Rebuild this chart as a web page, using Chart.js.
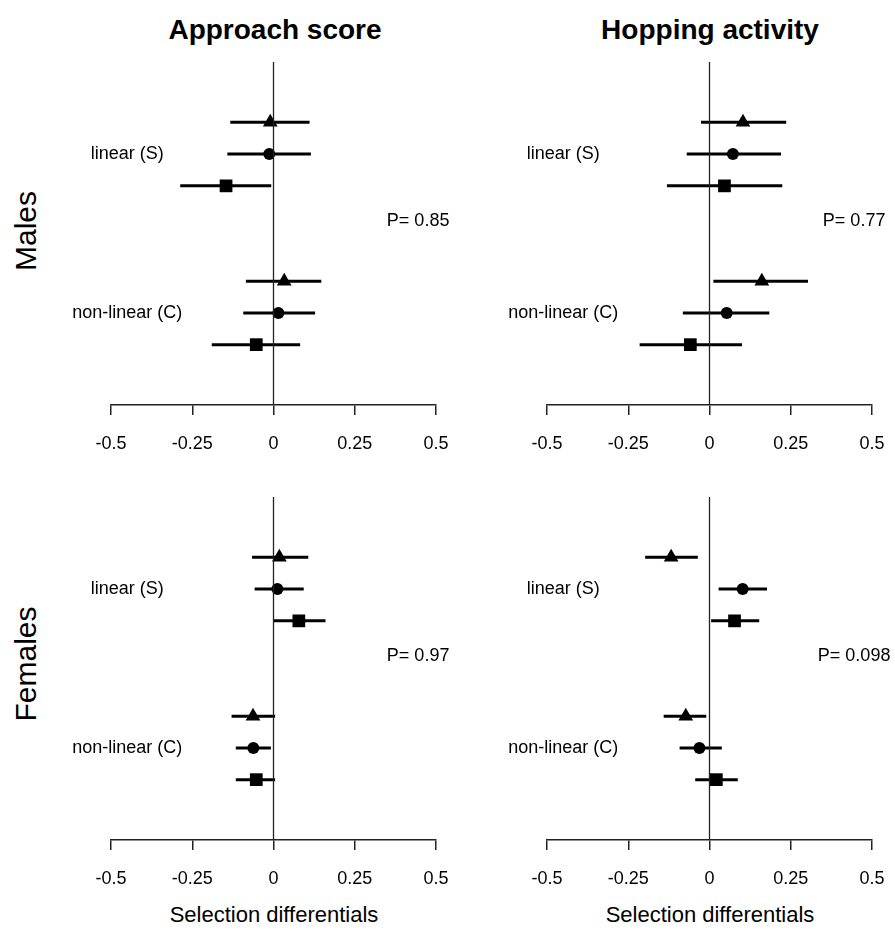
<!DOCTYPE html>
<html lang="en">

<head>
    <meta charset="UTF-8">
    <title>Selection differentials</title>
    <script src="https://cdn.jsdelivr.net/npm/chart.js"></script>
    <style>
        body { margin: 0; background: #fff; font-family: "Liberation Sans", Arial, sans-serif; }
        #page { position: relative; width: 895px; height: 932px; overflow: hidden; }
        canvas { position: absolute; }
        .label { position: absolute; transform: translate(-50%, -50%); white-space: nowrap; color: #000; }
        .title { font-weight: bold; font-size: 28px; }
        .sex { font-size: 30px; transform: translate(-50%, -50%) rotate(-90deg); }
        .xtitle { font-size: 22px; }
    </style>
</head>

<body>
    <div id="page">
        <div class="label title" style="left:275px; top:30px">Approach score</div>
        <div class="label title" style="left:710px; top:30px">Hopping activity</div>
        <div class="label sex" style="left:26px; top:231px">Males</div>
        <div class="label sex" style="left:26px; top:664px">Females</div>
        <div class="label xtitle" style="left:274px; top:915px">Selection differentials</div>
        <div class="label xtitle" style="left:710px; top:915px">Selection differentials</div>

        <canvas id="maleApproach" width="420" height="420" style="left:50px; top:40px"></canvas>
        <canvas id="maleHopping" width="418" height="420" style="left:487px; top:40px"></canvas>
        <canvas id="femaleApproach" width="420" height="420" style="left:50px; top:475px"></canvas>
        <canvas id="femaleHopping" width="418" height="420" style="left:487px; top:475px"></canvas>
    </div>

    <script>
        // rows: linear (S) triangle, circle, square, then non-linear (C) triangle, circle, square
        const rowLabels = ['linear (S)', 'non-linear (C)'];
        const xTicks = [-0.5, -0.25, 0, 0.25, 0.5];
        const xTickLabels = ['-0.5', '-0.25', '0', '0.25', '0.5'];
        const pLabels = ['P= 0.85', 'P= 0.77', 'P= 0.97', 'P= 0.098'];

        const maleApproachEst = [-0.010, -0.013, -0.146, 0.033, 0.015, -0.053];
        const maleApproachLo = [-0.133, -0.142, -0.287, -0.085, -0.093, -0.190];
        const maleApproachHi = [0.111, 0.115, -0.007, 0.147, 0.128, 0.082];

        const maleHoppingEst = [0.103, 0.072, 0.046, 0.161, 0.053, -0.059];
        const maleHoppingLo = [-0.026, -0.070, -0.131, 0.012, -0.082, -0.215];
        const maleHoppingHi = [0.236, 0.220, 0.224, 0.303, 0.184, 0.100];

        const femaleApproachEst = [0.018, 0.012, 0.078, -0.063, -0.062, -0.053];
        const femaleApproachLo = [-0.066, -0.058, 0.000, -0.129, -0.116, -0.116];
        const femaleApproachHi = [0.107, 0.093, 0.160, 0.005, -0.008, 0.005];

        const femaleHoppingEst = [-0.118, 0.102, 0.077, -0.073, -0.031, 0.021];
        const femaleHoppingLo = [-0.198, 0.028, 0.005, -0.141, -0.092, -0.044];
        const femaleHoppingHi = [-0.036, 0.177, 0.153, -0.010, 0.038, 0.087];

        const FONT = '"Liberation Sans", Arial, sans-serif';
        const shapes = [
            { style: 'triangle', radius: 8.5 },
            { style: 'circle', radius: 6 },
            { style: 'rect', radius: 9 }
        ];

        // y slot for row i: groups of three with a gap between them
        const slotOf = i => Math.floor(i / 3) * 5 + (i % 3);

        const errorBars = {
            id: 'errorBars',
            beforeDatasetsDraw(chart, args, opts) {
                const { ctx, scales: { x, y } } = chart;
                ctx.save();
                ctx.strokeStyle = '#000';
                ctx.lineWidth = 3;
                opts.lo.forEach((lo, i) => {
                    const py = y.getPixelForValue(slotOf(i));
                    ctx.beginPath();
                    ctx.moveTo(x.getPixelForValue(lo), py);
                    ctx.lineTo(x.getPixelForValue(opts.hi[i]), py);
                    ctx.stroke();
                });
                ctx.restore();
            }
        };

        const panelText = {
            id: 'panelText',
            afterDraw(chart, args, opts) {
                const { ctx, scales: { x, y } } = chart;
                ctx.save();
                ctx.fillStyle = '#000';
                ctx.font = '18px ' + FONT;
                ctx.textAlign = 'center';
                ctx.textBaseline = 'middle';
                rowLabels.forEach((txt, g) => {
                    ctx.fillText(txt, x.getPixelForValue(-0.45), y.getPixelForValue(g * 5 + 1));
                });
                ctx.fillText(opts.p, x.getPixelForValue(0.445), y.getPixelForValue(3.1));
                ctx.restore();
            }
        };

        function makePanel(id, est, lo, hi, p, pad) {
            const datasets = [{
                type: 'line',
                data: [{ x: 0, y: -1.9 }, { x: 0, y: 8.9 }],
                borderColor: '#222',
                borderWidth: 1.3,
                pointRadius: 0
            }];
            shapes.forEach((s, k) => {
                datasets.push({
                    type: 'scatter',
                    data: [k, k + 3].map(i => ({ x: est[i], y: slotOf(i) })),
                    pointStyle: s.style,
                    pointRadius: s.radius,
                    backgroundColor: '#000',
                    borderColor: '#000',
                    borderWidth: 0,
                    clip: false
                });
            });

            new Chart(document.getElementById(id), {
                type: 'scatter',
                data: { datasets },
                options: {
                    responsive: false,
                    animation: false,
                    layout: { padding: pad },
                    plugins: {
                        legend: { display: false },
                        tooltip: { enabled: false },
                        errorBars: { lo, hi },
                        panelText: { p }
                    },
                    scales: {
                        x: {
                            type: 'linear',
                            min: -0.5,
                            max: 0.5,
                            afterBuildTicks: s => { s.ticks = xTicks.map(v => ({ value: v })); },
                            afterFit: s => { s.height = 52; },
                            grid: { drawOnChartArea: false, drawTicks: true, tickLength: 10, color: '#222', lineWidth: 1.5 },
                            border: { display: true, color: '#222', width: 1.5 },
                            ticks: {
                                color: '#000',
                                font: { size: 18, family: FONT },
                                padding: 18,
                                maxRotation: 0,
                                autoSkip: false,
                                callback: (v, i) => xTickLabels[i]
                            }
                        },
                        y: { type: 'linear', reverse: true, min: -1.9, max: 8.9, display: false }
                    }
                },
                plugins: [errorBars, panelText]
            });
        }

        const padLeft = { left: 61, right: 34, top: 22, bottom: 3 };
        const padRight = { left: 60, right: 33, top: 22, bottom: 3 };

        makePanel('maleApproach', maleApproachEst, maleApproachLo, maleApproachHi, pLabels[0], padLeft);
        makePanel('maleHopping', maleHoppingEst, maleHoppingLo, maleHoppingHi, pLabels[1], padRight);
        makePanel('femaleApproach', femaleApproachEst, femaleApproachLo, femaleApproachHi, pLabels[2], padLeft);
        makePanel('femaleHopping', femaleHoppingEst, femaleHoppingLo, femaleHoppingHi, pLabels[3], padRight);
    </script>
</body>

</html>
